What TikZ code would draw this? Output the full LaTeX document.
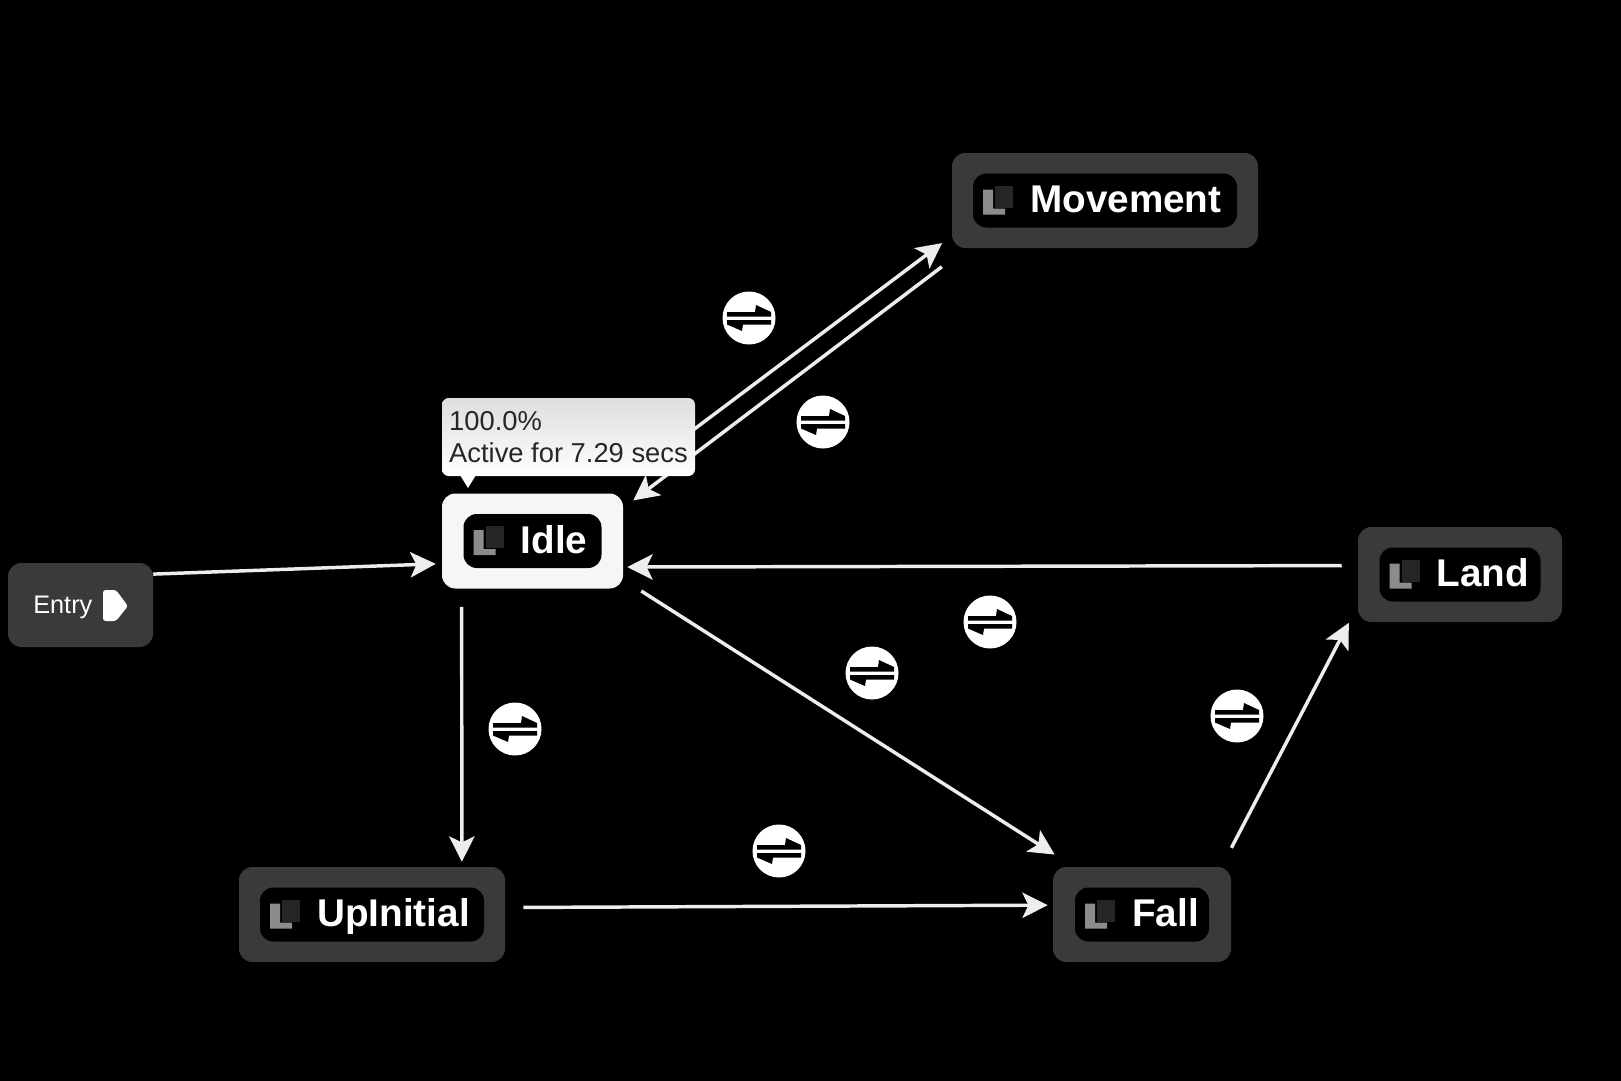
\documentclass[tikz,border=0pt]{standalone}
\usepackage{fontspec}
\setmainfont{Liberation Sans}
\usetikzlibrary{arrows.meta}
\definecolor{boxgrey}{HTML}{3A3A3A}
\definecolor{iconL}{HTML}{8C8C8C}
\definecolor{iconsq}{HTML}{262626}
\definecolor{idlewhite}{HTML}{F6F6F6}
\tikzset{
    statebox/.style={fill=#1, rounded corners=10pt, inner sep=0pt, minimum height=71.25pt},
    statein/.style={fill=black, rounded corners=10pt, inner sep=0pt, minimum height=40.5pt},
    statetext/.style={text=white, inner sep=0pt, font=\fontsize{29}{34}\selectfont\bfseries},
    trans/.style={draw=white!93!black, line width=2.6pt, -{Stealth[length=19pt,width=19pt,inset=4.5pt]}},
    xferdisc/.style={circle, fill=white, inner sep=0pt, minimum size=39.75pt},
}
\begin{document}
\begin{tikzpicture}[x=0.75pt,y=-0.75pt]
    \fill[black] (0,0) rectangle (1621,1081);
    \useasboundingbox (0,0) rectangle (1621,1081);

    % States
    \foreach \name/\cx/\cy/\ow/\iw/\lbl/\col in {
        movement/1105/200.5/306/264/Movement/boxgrey,
        idle/532.5/541/181/138/Idle/idlewhite,
        upinitial/372/914.5/266/224/UpInitial/boxgrey,
        fall/1142/914.5/178/134/Fall/boxgrey,
        land/1460/574.5/204/161/Land/boxgrey} {
        \node[statebox=\col, minimum width=\ow*0.75pt] (\name) at (\cx,\cy) {};
        \node[statein, minimum width=\iw*0.75pt] (\name-in) at (\cx,\cy) {};
        \begin{scope}[shift={({\cx-\iw/2},\cy)}]
            \fill[iconsq] (22,-15) rectangle (40,7);
            \fill[iconL] (10,-11) -- (20,-11) -- (20,8) -- (32,8) -- (32,14) -- (10,14) -- cycle;
        \end{scope}
        \node[statetext, anchor=base west] (\name-label) at ({\cx-\iw/2+57},{\cy+12}) {\lbl};
    }

    % Entry
    \node[fill=boxgrey, rounded corners=10pt, inner sep=0pt, minimum width=108.75pt, minimum height=63pt] (entry) at (80.5,605) {};
    \node[anchor=base west, text=white, inner sep=0pt, font=\fontsize{19}{23}\selectfont] (entry-label) at (33,613) {Entry};
    \fill[white, rounded corners=2pt] (103,590) -- (116,590) -- (128,606) -- (116,621) -- (103,621) -- cycle;

    % Transitions
    \draw[trans, shorten >=4.5pt] (entry.23) -- (idle.194.9);
    \draw[trans, shorten <=13.5pt, shorten >=3.75pt] (idle.214.8) -- (upinitial.28.1);
    \draw[trans, shorten <=16pt, shorten >=17pt] (idle.337.5) -- (fall.145.1);
    \draw[trans, shorten <=27pt, shorten >=9pt] (idle.32.8) -- (movement.193.4);
    \draw[trans, shorten <=23pt, shorten >=9.4pt] (movement.199.4) -- (idle.20.9);
    \draw[trans, shorten <=12pt, shorten >=3pt] (land.175.8) -- (idle.344);
    \draw[trans, shorten <=13.5pt, shorten >=3.75pt] (upinitial.3.5) -- (fall.174.5);
    \draw[trans, shorten <=16pt, shorten >=14.4pt] (fall.31.3) -- (land.197.2);

    % Transition icons
    \foreach \name/\cx/\cy in {t1/749/318,t2/823/422,t3/990/622,t4/872/673,t5/515/729,t6/1237/716,t7/779/851} {
        \node[xferdisc] (\name) at (\cx,\cy) {};
        \begin{scope}[shift={(\cx,\cy)}]
            \fill[black] (-22,-1.5) -- (-22,-6) -- (6,-6) -- (7,-13) -- (22,-6) -- (22,-1.5) -- cycle;
            \fill[black] (22,2) -- (22,6.5) -- (-6,6.5) -- (-7,13) -- (-22,6.5) -- (-22,2) -- cycle;
        \end{scope}
    }

    % Tooltip
    \fill[white] (460,475) -- (476,475) -- (468,488) -- cycle;
    \node[top color=black!13, bottom color=white, rounded corners=5pt, inner sep=0pt,
        minimum width=189.75pt, minimum height=58.5pt, text=black!85, align=left,
        font=\fontsize{20.5}{23.5}\selectfont] (tooltip) at (568.5,437) {100.0\%\\Active for 7.29 secs};
\end{tikzpicture}
\end{document}
